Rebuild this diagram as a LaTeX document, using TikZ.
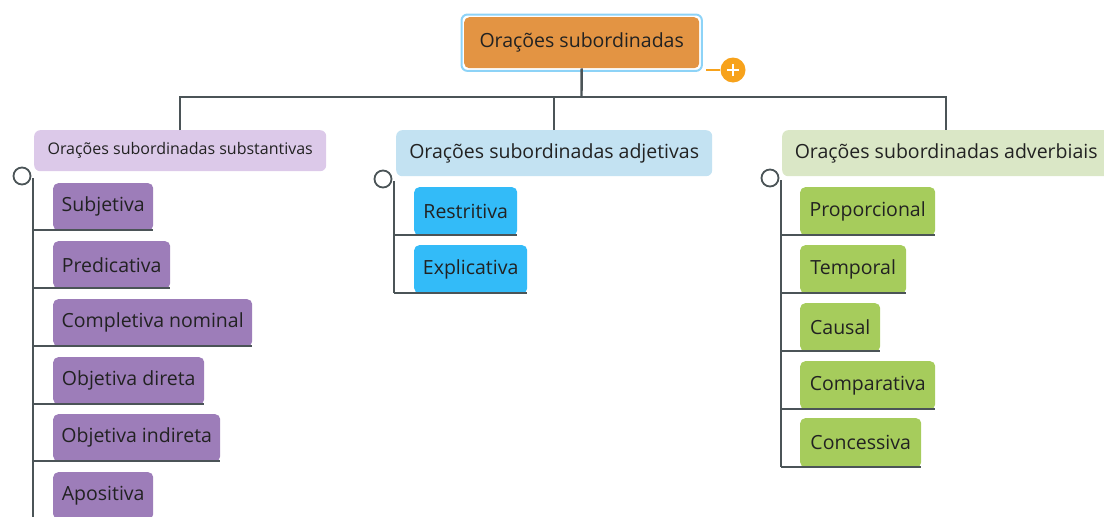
\documentclass[tikz,border=0pt]{standalone}
\usepackage{fontspec}
\setmainfont{Open Sans}
\usetikzlibrary{fit}
\definecolor{lnc}{HTML}{4B5457}
\definecolor{rootc}{HTML}{E39443}
\definecolor{hlc}{HTML}{8DD3F7}
\definecolor{plusc}{HTML}{F7A21B}
\definecolor{pL}{HTML}{DCC9E9}
\definecolor{pD}{HTML}{9D7DB9}
\definecolor{bL}{HTML}{C3E2F2}
\definecolor{bD}{HTML}{33BBF8}
\definecolor{gL}{HTML}{DAE7C6}
\definecolor{gD}{HTML}{A6CC5C}
\definecolor{txt}{HTML}{222222}
\begin{document}
\begin{tikzpicture}[x=1pt,y=-1pt,
  ln/.style={draw=lnc, line width=2.4pt},
  ul/.style={draw=lnc, line width=2pt},
  kid/.style={rounded corners=5pt, anchor=north west, minimum height=48pt, inner sep=0pt,
    font=\fontsize{19.5}{23}\selectfont, text=txt},
  hdr/.style={rounded corners=6pt, anchor=north west, minimum height=46pt, inner sep=0pt,
    font=\fontsize{19.5}{23}\selectfont, text=txt},
  knob/.style={circle, draw=lnc, line width=1.8pt, fill=white, minimum size=17pt, inner sep=0pt}
]
\useasboundingbox (0,0) rectangle (1104,517);
\clip (0,0) rectangle (1104,517);

% root
\node[rounded corners=5pt, anchor=north west, fill=rootc, minimum width=235pt, minimum height=51pt,
  inner sep=0pt, font=\fontsize{19.5}{23}\selectfont, text=txt] (root) at (464,17) {Orações subordinadas};
\node[fit=(root), inner sep=2.5pt, draw=hlc, line width=2pt, rounded corners=6pt] (rooth) {};
\node[circle, fill=plusc, minimum size=25pt, inner sep=0pt] (plus) at (733,70) {};
\coordinate (pl) at (706,70);
\draw[plusc, line width=2.2pt] (pl) -- (plus.west);
\draw[white, line width=2.4pt] ([xshift=-6pt]plus.center) -- ([xshift=6pt]plus.center);
\draw[white, line width=2.4pt] ([yshift=-6pt]plus.center) -- ([yshift=6pt]plus.center);

% headers
\node[hdr, fill=pL, minimum width=292pt, minimum height=41pt, font=\fontsize{16}{19}\selectfont] (hs) at (34,130) {Orações subordinadas substantivas};
\node[hdr, fill=bL, minimum width=316pt] (ha) at (396,130) {Orações subordinadas adjetivas};
\node[hdr, fill=gL, minimum width=328pt] (hv) at (782,130) {Orações subordinadas adverbiais};

% bus
\coordinate (bus) at (581.5,97);
\draw[ln] (root.south) -- (bus);
\draw[ln] (hs.north) |- (bus) -| (hv.north);
\draw[ln] (ha.north) -- (ha.north |- bus);

% left group
\coordinate (t1) at (33,178);
\coordinate (t1e) at (33,520);
\draw[ln] (t1) -- (t1e);
\node[knob] (o1) at (22,176) {};
\node[kid, fill=pD, minimum width=100pt, minimum height=47pt] (s1) at (53,183) {Subjetiva};
\node[kid, fill=pD, minimum width=117pt, minimum height=47pt] (s2) at (53,241) {Predicativa};
\node[kid, fill=pD, minimum width=199pt, minimum height=47pt] (s3) at (53,299) {Completiva nominal};
\node[kid, fill=pD, minimum width=151pt, minimum height=47pt] (s4) at (53,357) {Objetiva direta};
\node[kid, fill=pD, minimum width=167pt, minimum height=47pt] (s5) at (53,414) {Objetiva indireta};
\node[kid, fill=pD, minimum width=100pt, minimum height=47pt] (s6) at (53,472) {Apositiva};
\foreach \n in {s1,s2,s3,s4,s5}{\draw[ul] (t1 |- \n.south) -- (\n.south east);}

% middle group
\coordinate (t2) at (394,181);
\node[kid, fill=bD, minimum width=103pt] (a1) at (414,187) {Restritiva};
\node[kid, fill=bD, minimum width=113pt] (a2) at (414,245) {Explicativa};
\draw[ln] (t2) -- (t2 |- a2.south);
\node[knob] (o2) at (383,179) {};
\foreach \n in {a1,a2}{\draw[ul] (t2 |- \n.south) -- (\n.south east);}

% right group
\coordinate (t3) at (781,180);
\node[kid, fill=gD, minimum width=135pt] (v1) at (800,187) {Proporcional};
\node[kid, fill=gD, minimum width=106pt] (v2) at (800,245) {Temporal};
\node[kid, fill=gD, minimum width=80pt] (v3) at (800,303) {Causal};
\node[kid, fill=gD, minimum width=135pt] (v4) at (800,361) {Comparativa};
\node[kid, fill=gD, minimum width=121pt, minimum height=49pt] (v5) at (800,418) {Concessiva};
\draw[ln] (t3) -- (t3 |- v5.south);
\node[knob] (o3) at (770,178) {};
\foreach \n in {v1,v2,v3,v4,v5}{\draw[ul] (t3 |- \n.south) -- (\n.south east);}
\end{tikzpicture}
\end{document}
